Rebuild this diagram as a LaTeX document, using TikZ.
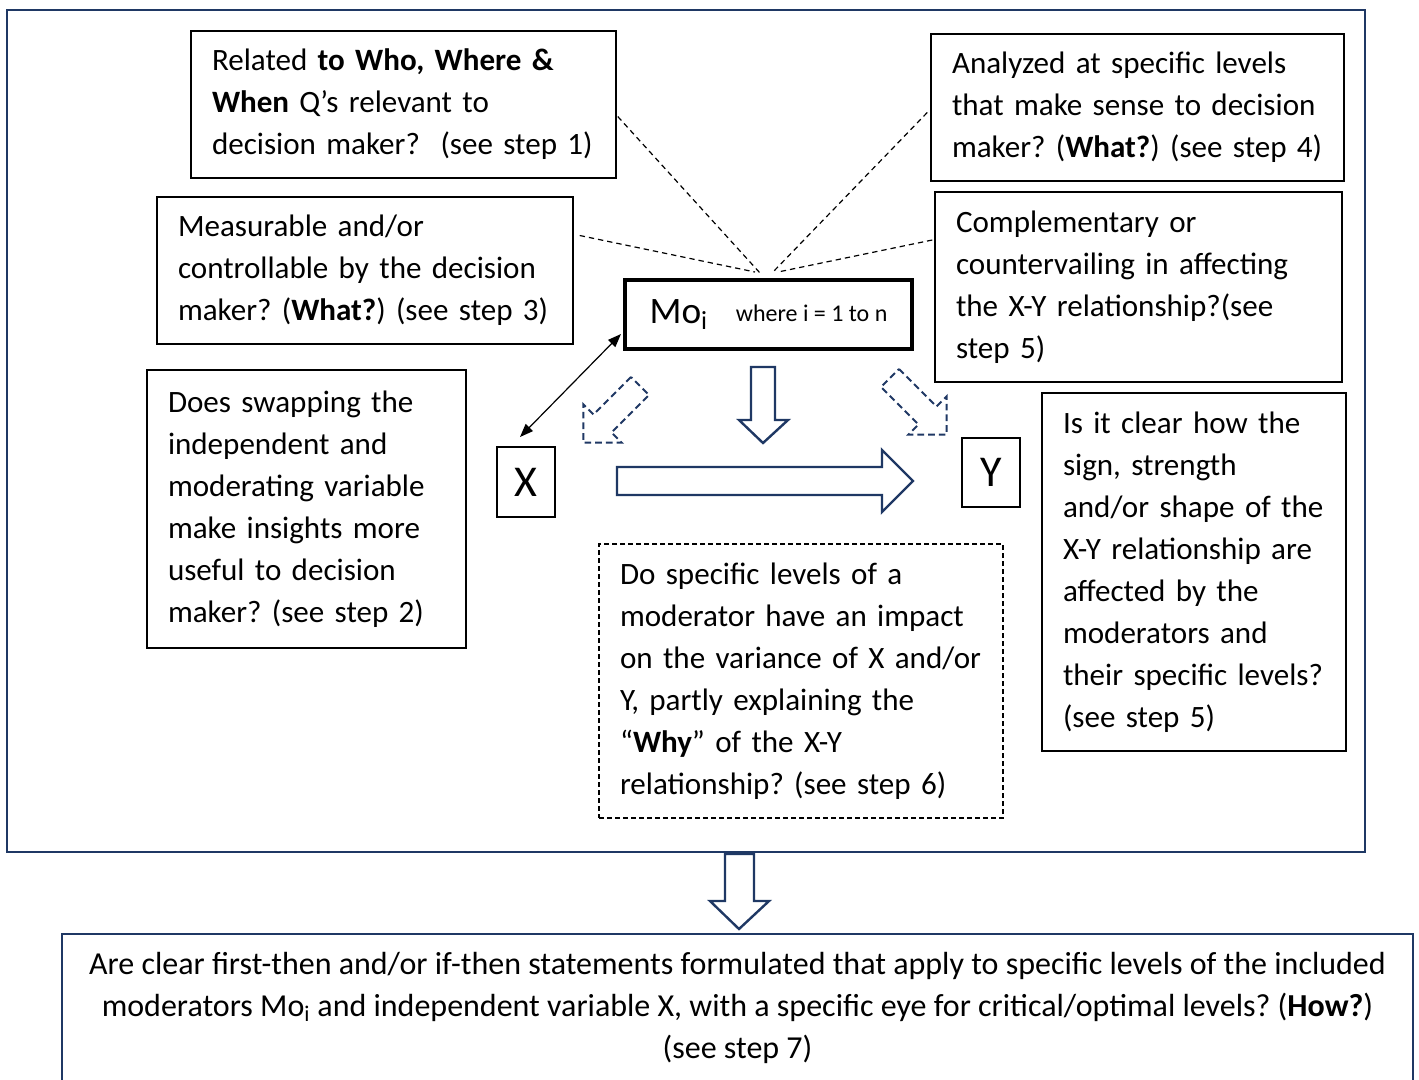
\documentclass[tikz,border=0pt]{standalone}
\usepackage{fontspec}
\setmainfont{Carlito}
\usetikzlibrary{arrows.meta,calc}
\definecolor{navy}{RGB}{31,56,100}
\newcommand\bodyfont{\fontsize{23.3}{31.5}\selectfont}
\newcommand\botfont{\fontsize{24}{31.5}\selectfont}
\frenchspacing
\begin{document}
\begin{tikzpicture}[x=0.75pt,y=-0.75pt,
  tbox/.style={draw=black, line width=1.1pt, align=left, inner xsep=15.75pt, inner ysep=0pt, font=\bodyfont, text=black},
  vbox/.style={draw=black, line width=1.1pt, inner sep=0pt, text=black},
  navyframe/.style={draw=navy, line width=2pt, inner sep=0pt},
  blockarrow/.style={draw=navy, line width=1.8pt, fill=white, line join=miter},
  dashblock/.style={draw=navy, line width=1.5pt, fill=white, dash pattern=on 5pt off 3pt},
  guide/.style={draw=black, line width=0.9pt, dash pattern=on 4pt off 3pt},
  dbl/.style={draw=black, line width=0.9pt, {Triangle[length=10pt,width=7.5pt]}-{Triangle[length=10pt,width=7.5pt]}}
]
\useasboundingbox (0,0) rectangle (1419,1079);
\clip (0,0) rectangle (1419,1079);
\fill[white] (0,0) rectangle (1419,1079);

% outer frame
\node[navyframe, minimum width=1018.5pt, minimum height=631.5pt] (frame) at (686,431) {};

% text boxes
\node[tbox, minimum width=318.75pt, minimum height=110.25pt, text width=287.25pt] (b1) at (403.5,104.5)
 {\mbox{Related \textbf{to Who, Where \&}}\\\mbox{\textbf{When} Q’s relevant to}\\\mbox{decision maker?\ \ (see step 1)}};
\node[tbox, minimum width=309.75pt, minimum height=110.25pt, text width=278.25pt] (b2) at (1137.5,107.5)
 {\mbox{Analyzed at specific levels}\\\mbox{that make sense to decision}\\\mbox{maker? (\textbf{What?}) (see step 4)}};
\node[tbox, minimum width=312pt, minimum height=110.25pt, text width=280.5pt] (b3) at (365,270.5)
 {\mbox{Measurable and/or}\\\mbox{controllable by the decision}\\\mbox{maker? (\textbf{What?}) (see step 3)}};
\node[tbox, minimum width=305.25pt, minimum height=142.5pt, text width=273.75pt] (b4) at (1138.5,287)
 {\mbox{Complementary or}\\\mbox{countervailing in affecting}\\\mbox{the X-Y relationship?(see}\\\mbox{step 5)}};
\node[tbox, minimum width=239.25pt, minimum height=208.5pt, text width=207.75pt] (b5) at (306.5,509)
 {\mbox{Does swapping the}\\\mbox{independent and}\\\mbox{moderating variable}\\\mbox{make insights more}\\\mbox{useful to decision}\\\mbox{maker? (see step 2)}};
\node[tbox, minimum width=228pt, minimum height=268.5pt, text width=196.5pt] (b6) at (1194,572)
 {\mbox{Is it clear how the}\\\mbox{sign, strength}\\\mbox{and/or shape of the}\\\mbox{X-Y relationship are}\\\mbox{affected by the}\\\mbox{moderators and}\\\mbox{their specific levels?}\\\mbox{(see step 5)}};
\node[tbox, dash pattern=on 3.5pt off 2.5pt, minimum width=303pt, minimum height=205.5pt, text width=271.5pt] (db) at (801,681)
 {\mbox{Do specific levels of a}\\\mbox{moderator have an impact}\\\mbox{on the variance of X and/or}\\\mbox{Y, partly explaining the}\\\mbox{“\textbf{Why}” of the X-Y}\\\mbox{relationship? (see step 6)}};

% Mo, X, Y
\node[vbox, line width=2.6pt, minimum width=215.25pt, minimum height=51.75pt] (mo) at (768.5,314.5)
 {\raisebox{-1.5pt}{\fontsize{28}{30}\selectfont Mo\textsubscript{i}}\hspace{21pt}{\fontsize{18}{22}\selectfont where i = 1 to n}};
\node[vbox, minimum width=43.5pt, minimum height=52.5pt, font=\fontsize{33}{36}\selectfont] (x) at (526,482) {X};
\node[vbox, minimum width=43.5pt, minimum height=51.75pt, font=\fontsize{33}{36}\selectfont] (y) at (991,472.5) {Y};

% bottom box
\node[navyframe, align=center, font=\botfont, minimum width=1013.25pt, minimum height=111pt] (bot) at (737.5,1008)
 {Are clear first-then and/or if-then statements formulated that apply to specific levels of the included\\
  moderators Mo\textsubscript{i} and independent variable X, with a specific eye for critical/optimal levels? (\textbf{How?})\\
  (see step 7)};

% dashed guide lines
\coordinate (g1) at (760,273);
\coordinate (g2) at (772,273);
\coordinate (g3) at (755,272);
\coordinate (g4) at (778,272);
\draw[guide] ($(b1.east)+(1,12)$) -- (g1);
\draw[guide] ($(b2.west)+(-3,5)$) -- (g2);
\draw[guide] ($(b3.east)+(6,-35)$) -- (g3);
\draw[guide] ($(b4.west)+(-2,-47)$) -- (g4);

% double arrow X <-> Mo
\coordinate (dA) at (520,437);
\coordinate (dB) at (621,334);
\draw[dbl] (dA) -- (dB);

% block arrows
\draw[blockarrow] (751,367) -- (775,367) -- (775,420) -- (788,420) -- (763,443) -- (739,420) -- (751,420) -- cycle;
\draw[blockarrow] (617,467) -- (882,467) -- (882,450) -- (913,481) -- (882,512) -- (882,495) -- (617,495) -- cycle;
\draw[blockarrow] (725,854) -- (754,854) -- (754,901) -- (769,901) -- (739,929) -- (710,901) -- (725,901) -- cycle;

% dashed block arrows
\draw[dashblock] (631,377) -- (593.5,414.5) -- (583.4,404.4) -- (583.4,442.6) -- (621.6,442.6) -- (611.5,432.5) -- (649,395) -- cycle;
\draw[dashblock] (899,369) -- (936.5,406.5) -- (946.6,396.4) -- (946.6,434.6) -- (908.4,434.6) -- (918.5,424.5) -- (881,387) -- cycle;
\end{tikzpicture}
\end{document}
